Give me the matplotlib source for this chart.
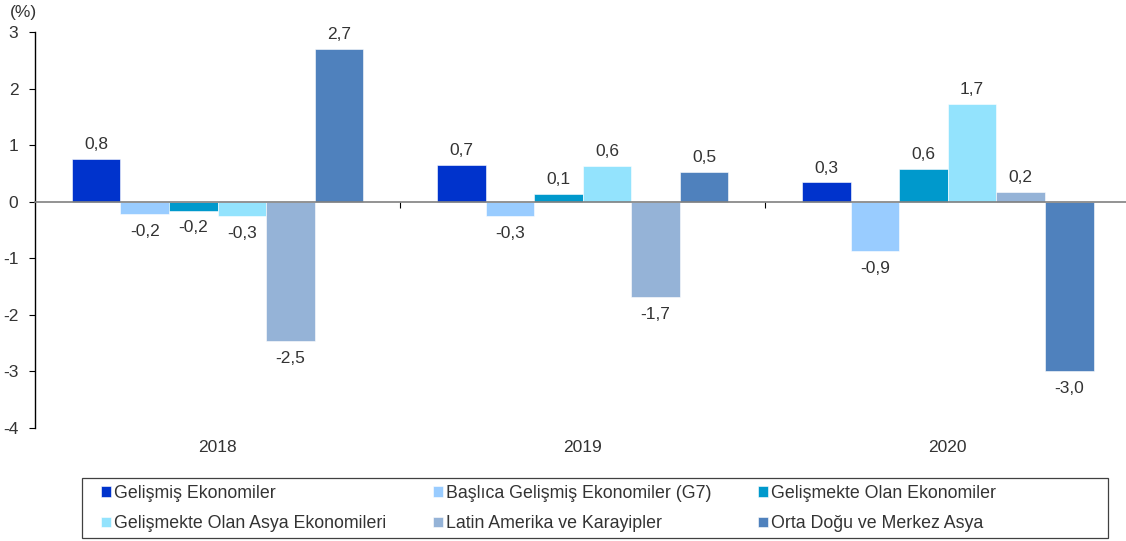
import matplotlib
matplotlib.use('Agg')
import matplotlib.pyplot as plt
from matplotlib.patches import Rectangle
import numpy as np

plt.rcParams['font.family'] = ['Liberation Sans', 'DejaVu Sans']
plt.rcParams['axes.unicode_minus'] = False

# data
years = ['2018', '2019', '2020']
series_names = [
    'Gelişmiş Ekonomiler',
    'Başlıca Gelişmiş Ekonomiler (G7)',
    'Gelişmekte Olan Ekonomiler',
    'Gelişmekte Olan Asya Ekonomileri',
    'Latin Amerika ve Karayipler',
    'Orta Doğu ve Merkez Asya',
]
gelismis = [0.76, 0.65, 0.34]
g7 = [-0.22, -0.26, -0.87]
gelismekte = [-0.16, 0.14, 0.58]
asya = [-0.26, 0.63, 1.73]
latin = [-2.46, -1.69, 0.18]
orta_dogu = [2.70, 0.53, -3.00]

gelismis_lbl = ['0,8', '0,7', '0,3']
g7_lbl = ['-0,2', '-0,3', '-0,9']
gelismekte_lbl = ['-0,2', '0,1', '0,6']
asya_lbl = ['-0,3', '0,6', '1,7']
latin_lbl = ['-2,5', '-1,7', '0,2']
orta_dogu_lbl = ['2,7', '0,5', '-3,0']

colors = ['#0033CC', '#99CCFF', '#0099CC', '#93E3FD', '#95B3D7', '#4F81BD']

series = [gelismis, g7, gelismekte, asya, latin, orta_dogu]
labels = [gelismis_lbl, g7_lbl, gelismekte_lbl, asya_lbl, latin_lbl, orta_dogu_lbl]

W, H = 1126, 541
fs = 12.5
lfs = 12.8
fig = plt.figure(figsize=(W / 100, H / 100), dpi=100)
ax = fig.add_axes([35 / W, 1 - 428 / H, (W - 35) / W, (428 - 32) / H])

x = np.arange(len(years))
bw = 0.133
text_c = '#333333'

handles = []
for i, (vals, lbls, c) in enumerate(zip(series, labels, colors)):
    pos = x + (i - 2.5) * bw
    b = ax.bar(pos, vals, width=bw, color=c, edgecolor='white', linewidth=0.4,
               label=series_names[i], zorder=2)
    handles.append(b)
    for px, v, t in zip(pos, vals, lbls):
        off = 5 if v >= 0 else -7
        va = 'bottom' if v >= 0 else 'top'
        ax.annotate(t, (px, v), xytext=(0, off), textcoords='offset points',
                    ha='center', va=va, fontsize=fs, color=text_c)

ax.set_xlim(-0.5, 2.488)
ax.set_ylim(-4, 3)
ax.set_yticks(range(-4, 4))
ax.tick_params(axis='y', length=4, width=0.8, colors='black', labelcolor=text_c,
               labelsize=fs, pad=8)

for s in ['top', 'right']:
    ax.spines[s].set_visible(False)
ax.spines['left'].set_color('black')
ax.spines['left'].set_linewidth(1.0)
ax.spines['bottom'].set_position(('data', 0))
ax.spines['bottom'].set_color('#808080')
ax.spines['bottom'].set_linewidth(1.2)
ax.spines['bottom'].set_zorder(3)

# separator ticks between years on the zero line
ax.set_xticks([0.5, 1.5])
ax.set_xticklabels([])
ax.tick_params(axis='x', length=4, width=0.8, colors='black', direction='out')

for xi, yr in zip(x, years):
    ax.text(xi, -4.35, yr, ha='center', va='center', fontsize=fs, color=text_c)

fig.text(10 / W, 1 - 13 / H, '(%)', ha='left', va='center', fontsize=fs, color=text_c)

# legend box
fig.patches.append(Rectangle((82 / W, 1 - 538 / H), (1108 - 82) / W, (538 - 478) / H,
                             transform=fig.transFigure, fill=False,
                             edgecolor='#404040', linewidth=0.9))
order = [0, 3, 1, 4, 2, 5]
fig.legend(handles=[handles[k] for k in order], labels=[series_names[k] for k in order],
           loc='upper left', bbox_to_anchor=(101 / W, 1 - 485 / H),
           ncol=3, frameon=False, fontsize=lfs, handlelength=0.55, handleheight=0.55,
           handletextpad=0.2, columnspacing=2.6, labelspacing=0.75,
           borderpad=0, borderaxespad=0, labelcolor=text_c)

fig.savefig('out.png', dpi=100)
plt.close(fig)
